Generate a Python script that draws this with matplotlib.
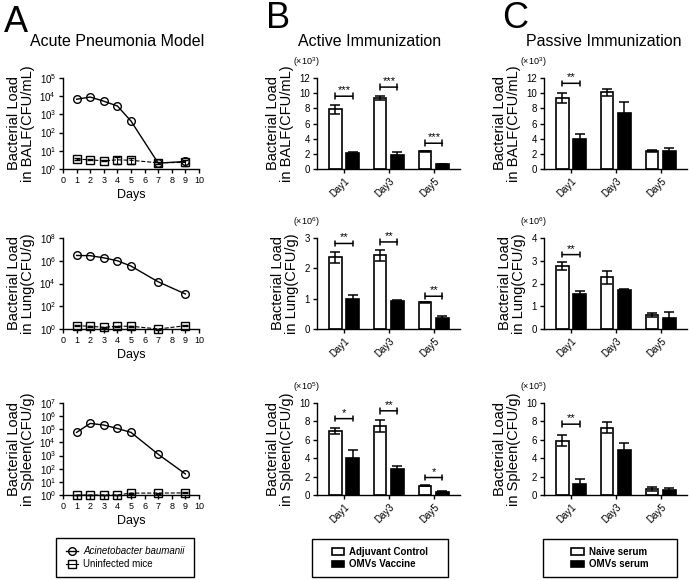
import numpy as np
import matplotlib
matplotlib.use("Agg")
import matplotlib.pyplot as plt
from matplotlib.patches import Rectangle
from matplotlib.lines import Line2D
from matplotlib.ticker import FixedLocator, NullLocator, FuncFormatter

plt.rcParams['font.family'] = ['Liberation Sans', 'DejaVu Sans']
plt.rcParams['mathtext.fontset'] = 'custom'
plt.rcParams['mathtext.rm'] = 'Liberation Sans'
plt.rcParams['mathtext.it'] = 'Liberation Sans:italic'
plt.rcParams['mathtext.bf'] = 'Liberation Sans:bold'

# ---- Panel A data (time course, log scale) ----
days = [1, 2, 3, 4, 5, 7, 9]
balf_inf = [6800, 9000, 5300, 2900, 430, 2.1, 2.6]
balf_uninf = [3.5, 3.2, 2.8, 3.2, 3.0, 2.2, 2.3]
balf_uninf_err = [0.3, 0.2, 0.2, 1.3, 1.1, 0.3, 0.8]
lung_inf = [2.9e6, 2.8e6, 1.8e6, 1.0e6, 3.4e5, 1.4e4, 1.2e3]
lung_uninf = [1.95, 1.75, 1.4, 1.75, 1.75, 1.0, 1.95]
lung_uninf_err = [0.2, 0.2, 0.2, 0.2, 0.2, 0.1, 0.2]
spleen_inf = [5.8e4, 2.8e5, 2.1e5, 1.15e5, 5.8e4, 1.25e3, 40]
spleen_uninf = [1.0, 1.0, 1.0, 1.0, 1.4, 1.4, 1.45]
spleen_uninf_err = [0.05, 0.05, 0.05, 0.05, 0.1, 0.1, 0.1]

# ---- Bar data ----
bar_days = ['Day1', 'Day3', 'Day5']

act_balf_ctrl = [7.9, 9.35, 2.33]
act_balf_ctrl_err = [0.6, 0.3, 0.1]
act_balf_vac = [2.1, 1.9, 0.65]
act_balf_vac_err = [0.15, 0.4, 0.05]
act_lung_ctrl = [2.36, 2.43, 0.88]
act_lung_ctrl_err = [0.18, 0.18, 0.02]
act_lung_vac = [1.0, 0.93, 0.36]
act_lung_vac_err = [0.13, 0.03, 0.07]
act_spleen_ctrl = [6.95, 7.5, 1.03]
act_spleen_ctrl_err = [0.3, 0.7, 0.05]
act_spleen_vac = [4.0, 2.8, 0.37]
act_spleen_vac_err = [0.9, 0.35, 0.06]

pas_balf_naive = [9.36, 10.1, 2.4]
pas_balf_naive_err = [0.7, 0.5, 0.1]
pas_balf_omv = [3.9, 7.45, 2.4]
pas_balf_omv_err = [0.75, 1.35, 0.4]
pas_lung_naive = [2.76, 2.28, 0.61]
pas_lung_naive_err = [0.17, 0.28, 0.08]
pas_lung_omv = [1.53, 1.72, 0.49]
pas_lung_omv_err = [0.14, 0.04, 0.25]
pas_spleen_naive = [5.9, 7.3, 0.66]
pas_spleen_naive_err = [0.6, 0.6, 0.18]
pas_spleen_omv = [1.22, 4.87, 0.55]
pas_spleen_omv_err = [0.55, 0.8, 0.22]

# significance: (group index, bracket height, stars)
sig_act_balf = [(0, 9.6, '***'), (1, 10.8, '***'), (2, 3.4, '***')]
sig_act_lung = [(0, 2.82, '**'), (1, 2.87, '**'), (2, 1.08, '**')]
sig_act_spleen = [(0, 8.3, '*'), (1, 9.15, '**'), (2, 1.9, '*')]
sig_pas_balf = [(0, 11.3, '**')]
sig_pas_lung = [(0, 3.27, '**')]
sig_pas_spleen = [(0, 7.7, '**')]

fig = plt.figure(figsize=(6.89, 5.80), dpi=100)

W = 689.0
H = 580.0


def box(x0, x1, ytop, ybot):
    return [x0 / W, 1 - ybot / H, (x1 - x0) / W, (ybot - ytop) / H]


rows = [(78, 169), (238, 329), (403, 495)]


def style(ax):
    ax.spines['top'].set_visible(False)
    ax.spines['right'].set_visible(False)
    ax.tick_params(direction='out', length=3, width=1, labelsize=7, pad=2)
    for s in ['left', 'bottom']:
        ax.spines[s].set_linewidth(1)


def log_panel(rect, inf, uninf, uerr, top, ticks, label):
    ax = fig.add_axes(rect)
    ax.set_yscale('log')
    ax.plot(days, inf, '-', color='black', lw=1, marker='o', ms=5.5,
            mfc='none', mec='black', mew=1, clip_on=False, zorder=3)
    ax.errorbar(days, uninf, yerr=uerr, fmt='--s', color='black', lw=0.8,
                ms=5.5, mfc='none', mec='black', mew=1, capsize=2.5,
                elinewidth=0.8, clip_on=False, zorder=3)
    ax.set_xlim(0, 10)
    ax.set_ylim(1, 10 ** top)
    ax.set_xticks(range(11))
    ax.yaxis.set_major_locator(FixedLocator([10.0 ** t for t in ticks]))
    ax.yaxis.set_minor_locator(NullLocator())
    ax.yaxis.set_major_formatter(FuncFormatter(
        lambda v, p: r'$10^{%d}$' % int(round(np.log10(v)))))
    style(ax)
    ax.tick_params(axis='x', labelsize=6.5)
    ax.set_xlabel('Days', fontsize=9, labelpad=3)
    ax.set_ylabel(label, fontsize=10.5, linespacing=1.0, labelpad=3)
    return ax


log_panel(box(63, 199, *rows[0]), balf_inf, balf_uninf, balf_uninf_err,
          5, range(0, 6), 'Bacterial Load\nin BALF(CFU/mL)')
log_panel(box(63, 199, *rows[1]), lung_inf, lung_uninf, lung_uninf_err,
          8, range(0, 9, 2), 'Bacterial Load\nin Lung(CFU/g)')
log_panel(box(63, 199, *rows[2]), spleen_inf, spleen_uninf, spleen_uninf_err,
          7, range(0, 8), 'Bacterial Load\nin Spleen(CFU/g)')


def bar_panel(rect, a, aerr, b, berr, ymax, step, exp, label, sigs):
    ax = fig.add_axes(rect)
    x = np.arange(len(bar_days))
    off = 0.19
    wd = 0.27
    ax.bar(x - off, a, wd, color='white', edgecolor='black', lw=1.2, zorder=2)
    ax.bar(x + off, b, wd, color='black', edgecolor='black', lw=1.2, zorder=2)
    ax.errorbar(x - off, a, yerr=aerr, fmt='none', ecolor='black',
                elinewidth=1.1, capsize=3.5, capthick=1.1, zorder=3)
    ax.errorbar(x + off, b, yerr=berr, fmt='none', ecolor='black',
                elinewidth=1.1, capsize=3.5, capthick=1.1, zorder=3)
    for g, h, s in sigs:
        ax.annotate('', xy=(g + off, h), xytext=(g - off, h),
                    arrowprops=dict(arrowstyle='|-|,widthA=0.2,widthB=0.2',
                                    lw=1.1, color='black',
                                    shrinkA=0, shrinkB=0))
        ax.text(g, h + ymax * 0.01, s, ha='center', va='bottom', fontsize=8)
    ax.set_xlim(-0.6, 2.58)
    ax.set_ylim(0, ymax)
    ax.set_yticks(np.arange(0, ymax + step / 2, step))
    ax.set_xticks(x)
    ax.set_xticklabels(bar_days, rotation=45, ha='right',
                       rotation_mode='anchor', fontsize=6.5)
    style(ax)
    ax.set_ylabel(label, fontsize=10.5, linespacing=1.0, labelpad=4)
    ax.text(-0.075, 1.17, r'(×10$^{%d}$)' % exp, transform=ax.transAxes,
            ha='center', va='center', fontsize=6.5)
    return ax


bar_panel(box(317, 460, *rows[0]), act_balf_ctrl, act_balf_ctrl_err,
          act_balf_vac, act_balf_vac_err, 12, 2, 3,
          'Bacterial Load\nin BALF(CFU/mL)', sig_act_balf)
bar_panel(box(317, 460, *rows[1]), act_lung_ctrl, act_lung_ctrl_err,
          act_lung_vac, act_lung_vac_err, 3, 1, 6,
          'Bacterial Load\nin Lung(CFU/g)', sig_act_lung)
bar_panel(box(317, 460, *rows[2]), act_spleen_ctrl, act_spleen_ctrl_err,
          act_spleen_vac, act_spleen_vac_err, 10, 2, 5,
          'Bacterial Load\nin Spleen(CFU/g)', sig_act_spleen)

bar_panel(box(544, 687, *rows[0]), pas_balf_naive, pas_balf_naive_err,
          pas_balf_omv, pas_balf_omv_err, 12, 2, 3,
          'Bacterial Load\nin BALF(CFU/mL)', sig_pas_balf)
bar_panel(box(544, 687, *rows[1]), pas_lung_naive, pas_lung_naive_err,
          pas_lung_omv, pas_lung_omv_err, 4, 1, 6,
          'Bacterial Load\nin Lung(CFU/g)', sig_pas_lung)
bar_panel(box(544, 687, *rows[2]), pas_spleen_naive, pas_spleen_naive_err,
          pas_spleen_omv, pas_spleen_omv_err, 10, 2, 5,
          'Bacterial Load\nin Spleen(CFU/g)', sig_pas_spleen)

# panel letters and titles
fig.text(16 / W, 1 - 22 / H, 'A', fontsize=26, ha='center', va='center')
fig.text(278 / W, 1 - 19 / H, 'B', fontsize=26, ha='center', va='center')
fig.text(515 / W, 1 - 19 / H, 'C', fontsize=26, ha='center', va='center')
fig.text(117 / W, 1 - 41 / H, 'Acute Pneumonia Model', fontsize=11.5,
         ha='center', va='center')
fig.text(370 / W, 1 - 41 / H, 'Active Immunization', fontsize=11.5,
         ha='center', va='center')
fig.text(604 / W, 1 - 41 / H, 'Passive Immunization', fontsize=11.5,
         ha='center', va='center')


def legend_box(x0, x1, ytop, ybot, handles, labels, weight, italic_first=False):
    fig.patches.append(Rectangle((x0 / W, 1 - ybot / H), (x1 - x0) / W,
                                 (ybot - ytop) / H, transform=fig.transFigure,
                                 fill=False, ec='black', lw=1))
    leg = fig.legend(handles, labels, loc='center',
                     bbox_to_anchor=((x0 + x1) / 2 / W, 1 - (ytop + ybot) / 2 / H),
                     frameon=False, handlelength=1.3,
                     handletextpad=0.5, labelspacing=0.3,
                     prop={'weight': weight, 'size': 7})
    if italic_first:
        leg.get_texts()[0].set_style('italic')
    return leg


h_inf = Line2D([], [], color='black', lw=1, marker='o', ms=5.5, mfc='none')
h_un = Line2D([], [], color='black', lw=0.8, marker='s', ms=5.5, mfc='none')
legend_box(56, 194, 538, 577, [h_inf, h_un],
           ['Acinetobacter baumanii', 'Uninfected mice'], 'normal', True)

h_w = Rectangle((0, 0), 1, 1, fc='white', ec='black', lw=1.2)
h_b = Rectangle((0, 0), 1, 1, fc='black', ec='black', lw=1.2)
legend_box(312, 448, 539, 577, [h_w, h_b],
           ['Adjuvant Control', 'OMVs Vaccine'], 'bold')
legend_box(543, 677, 539, 577, [h_w, h_b],
           ['Naive serum', 'OMVs serum'], 'bold')

fig.savefig('out.png', dpi=100)
